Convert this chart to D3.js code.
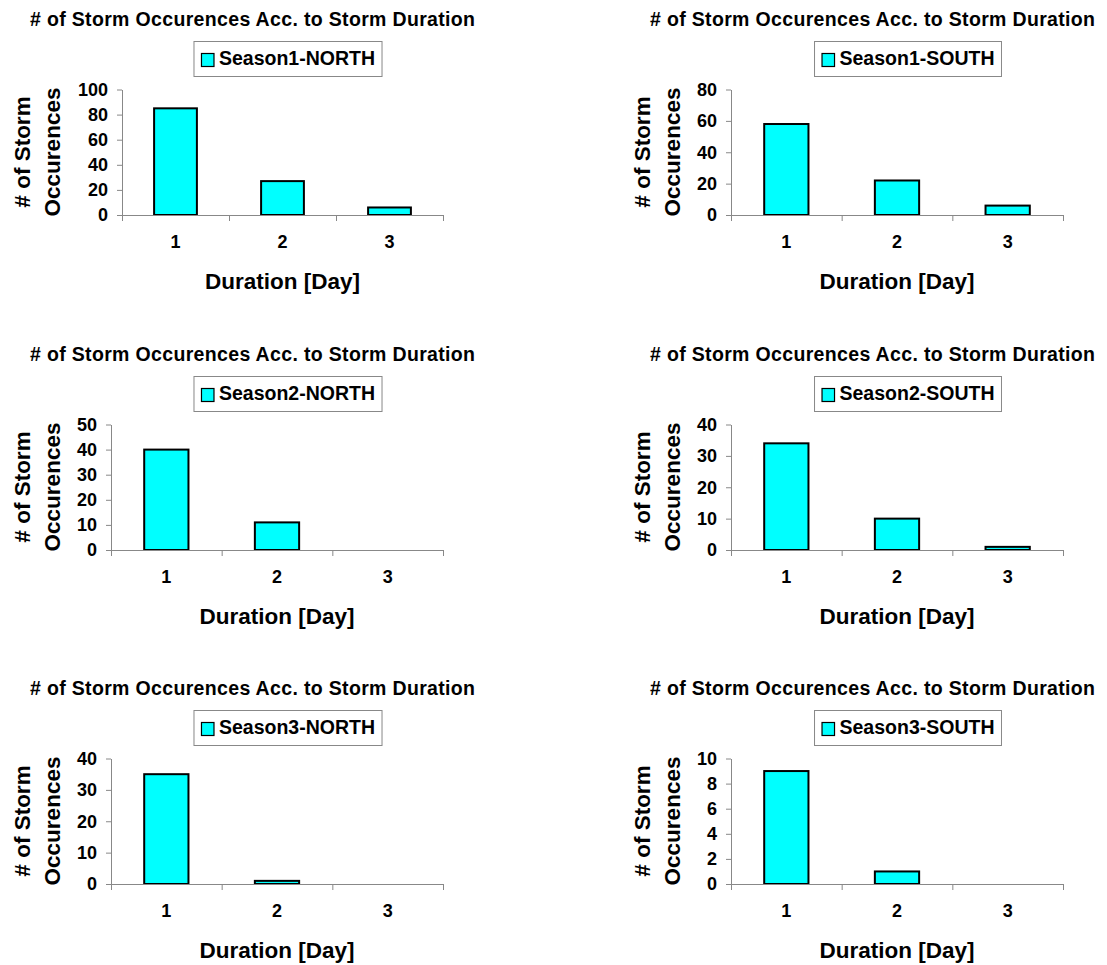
<!DOCTYPE html>
<html>
<head>
<meta charset="utf-8">
<script src="https://cdn.jsdelivr.net/npm/d3@7/dist/d3.min.js"></script>
<style>
  body { margin: 0; background: #fff; }
  svg text { font-family: "Liberation Sans", Arial, sans-serif; font-weight: bold; fill: #000; }
</style>
</head>
<body>
<div id="chart"></div>
<script>
// durations on the x axis
var durations = ["1", "2", "3"];

// one series per panel
var season1North = [85, 27, 6];
var season1South = [58, 22, 6];
var season2North = [40, 11, 0];
var season2South = [34, 10, 1];
var season3North = [35, 1, 0];
var season3South = [9, 1, 0];

var seriesNames = ["Season1-NORTH", "Season1-SOUTH", "Season2-NORTH", "Season2-SOUTH", "Season3-NORTH", "Season3-SOUTH"];
var seriesValues = [season1North, season1South, season2North, season2South, season3North, season3South];

// y tick labels per panel
var yTicks = [
    [0, 20, 40, 60, 80, 100],
    [0, 20, 40, 60, 80],
    [0, 10, 20, 30, 40, 50],
    [0, 10, 20, 30, 40],
    [0, 10, 20, 30, 40],
    [0, 2, 4, 6, 8, 10]
];

var chartTitle = "# of Storm Occurences Acc. to Storm Duration";
var xTitle = "Duration [Day]";
var yTitle = ["# of Storm", "Occurences"];

var width = 1107,
    height = 965;

var svg = d3.select("#chart")
    .append("svg")
    .attr("width", width)
    .attr("height", height);

var rowTops = [0, 335, 669],
    colLefts = [0, 620];

seriesNames.forEach(function (name, i) {
    var ox = colLefts[i % 2],
        oy = rowTops[Math.floor(i / 2)];
    var g = svg.append("g").attr("transform", "translate(" + ox + "," + oy + ")");

    var ticks = yTicks[i];
    var yMax = ticks[ticks.length - 1];
    // wider labels push the plot to the right
    var left = String(yMax).length > 2 ? 122 : 111,
        right = 443,
        top = 89.5,
        bottom = 215;

    var y = d3.scaleLinear().domain([0, yMax]).range([bottom, top]);
    var x = d3.scaleBand().domain(durations).range([left, right])
        .paddingInner(0.6).paddingOuter(0.3);
    var xEdge = d3.scaleLinear().domain([0, durations.length]).range([left, right]);

    // title
    g.append("text")
        .attr("x", 252.5)
        .attr("y", 26)
        .attr("text-anchor", "middle")
        .style("font-size", "19.5px")
        .attr("textLength", 445)
        .attr("lengthAdjust", "spacing")
        .text(chartTitle);

    // legend
    var leg = g.append("g");
    var legText = leg.append("text")
        .attr("y", 65)
        .style("font-size", "19.5px")
        .text(name);
    var tw = legText.node().getComputedTextLength();
    var boxW = tw + 32,
        boxX = 288 - boxW / 2;
    leg.insert("rect", "text")
        .attr("x", boxX)
        .attr("y", 41.5)
        .attr("width", boxW)
        .attr("height", 35)
        .attr("fill", "#fff")
        .attr("stroke", "#888")
        .attr("stroke-width", 1);
    leg.append("rect")
        .attr("x", boxX + 7.5)
        .attr("y", 53.5)
        .attr("width", 12.5)
        .attr("height", 13)
        .attr("fill", "#00ffff")
        .attr("stroke", "#000")
        .attr("stroke-width", 1.2);
    legText.attr("x", boxX + 25);

    // bars
    g.selectAll("rect.bar")
        .data(seriesValues[i])
        .enter()
        .append("rect")
        .attr("class", "bar")
        .attr("x", function (d, j) { return x(durations[j]); })
        .attr("y", function (d) { return y(d); })
        .attr("width", x.bandwidth())
        .attr("height", function (d) { return bottom - y(d); })
        .attr("fill", "#00ffff")
        .attr("stroke", "#000")
        .attr("stroke-width", function (d) { return d > 0 ? 2 : 0; });

    // y axis
    var yAxis = g.append("g")
        .attr("transform", "translate(" + left + ",0)")
        .call(d3.axisLeft(y).tickValues(ticks).tickSize(5).tickSizeOuter(0).tickPadding(9));
    yAxis.selectAll("path, line").attr("stroke", "#888");
    yAxis.selectAll("text")
        .style("font-size", "18px")
        .style("font-family", "'Liberation Sans', Arial, sans-serif")
        .style("font-weight", "bold")
        .attr("fill", "#000");

    // x axis line with ticks between categories
    var xAxis = g.append("g")
        .attr("transform", "translate(0," + bottom + ")")
        .call(d3.axisBottom(xEdge).tickValues(d3.range(durations.length + 1))
            .tickSize(6).tickSizeOuter(0).tickFormat(""));
    xAxis.selectAll("path, line").attr("stroke", "#888");

    // category labels
    var xLabels = g.append("g")
        .attr("transform", "translate(0," + bottom + ")")
        .call(d3.axisBottom(x).tickSize(0).tickPadding(20));
    xLabels.select(".domain").remove();
    xLabels.selectAll("text")
        .style("font-size", "18px")
        .style("font-family", "'Liberation Sans', Arial, sans-serif")
        .style("font-weight", "bold")
        .attr("fill", "#000");

    // axis titles
    g.append("text")
        .attr("x", (left + right) / 2)
        .attr("y", 289)
        .attr("text-anchor", "middle")
        .style("font-size", "22.5px")
        .text(xTitle);

    yTitle.forEach(function (line, k) {
        g.append("text")
            .attr("transform", "translate(" + (30 + k * 30) + ",152) rotate(-90)")
            .attr("text-anchor", "middle")
            .style("font-size", "22.5px")
            .text(line);
    });
});
</script>
</body>
</html>
